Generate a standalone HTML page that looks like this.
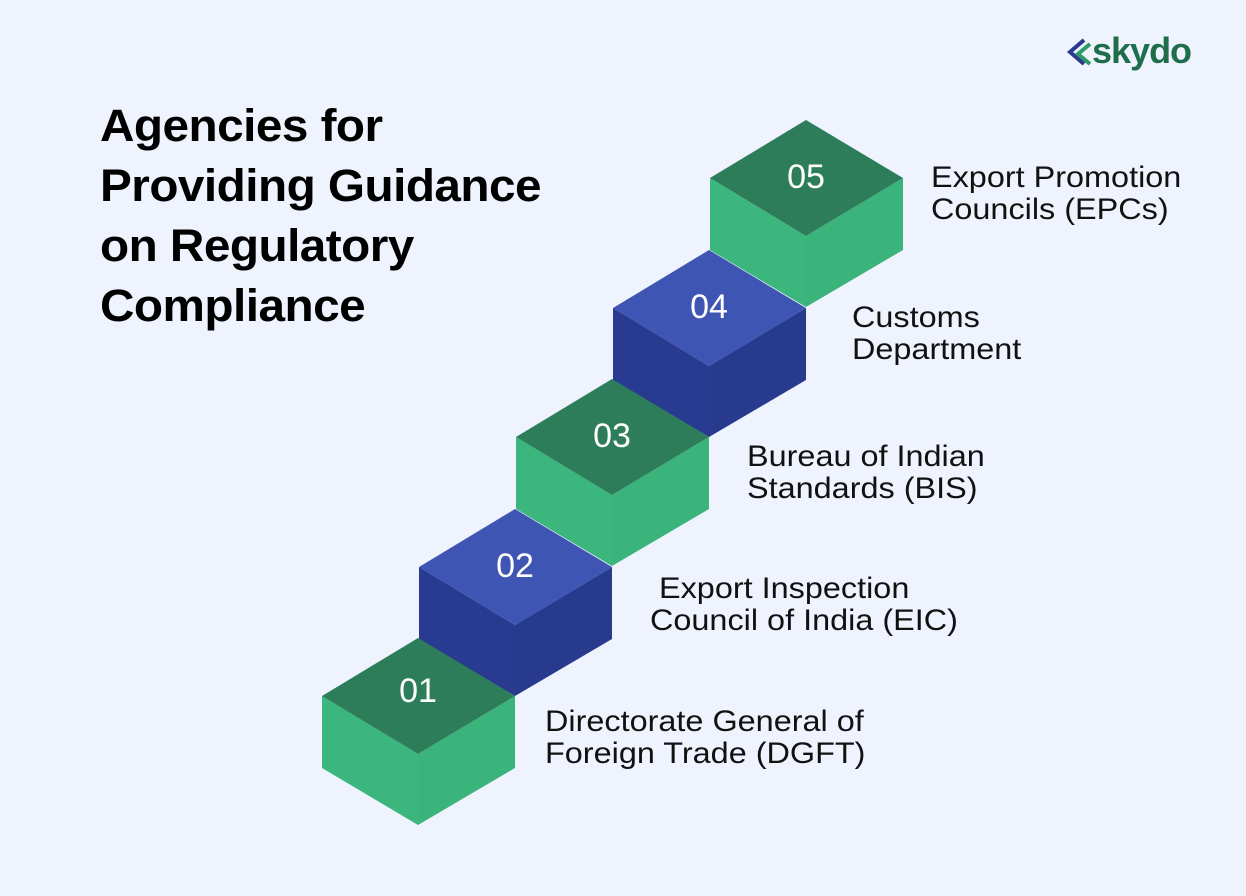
<!DOCTYPE html>
<html><head><style>
body{margin:0;width:1246px;height:896px;background:#eff3fd;position:relative;overflow:hidden;font-family:"Liberation Sans",sans-serif}
.t{position:absolute;left:100px;top:96px;font-weight:bold;font-size:45px;line-height:60px;color:#000;letter-spacing:-0.5px;transform:scaleX(1.06);transform-origin:0 0}
.l{position:absolute;font-size:30px;line-height:32px;color:#111;white-space:nowrap;transform:scaleX(1.08);transform-origin:0 0}
.logo{position:absolute;left:1092px;top:30px;font-size:36px;font-weight:bold;color:#1e6e4c;letter-spacing:-1px}
</style></head><body>
<div class="t">Agencies for<br>Providing Guidance<br>on Regulatory<br>Compliance</div>
<svg width="1246" height="896" style="position:absolute;left:0;top:0">
<g transform="translate(388,-518)"><polygon points="322,696 418,754 418,825 322,768" fill="#3bb67d"/><polygon points="418,754 515,696 515,768 418,825" fill="#3ab47b"/><polygon points="322,696 418,638 515,696 418,754" fill="#2e7d5a"/><text x="418" y="706" font-size="34" fill="#fff" text-anchor="middle" font-family="Liberation Sans">05</text></g>
<g transform="translate(291,-388)"><polygon points="322,696 418,754 418,825 322,768" fill="#283b90"/><polygon points="418,754 515,696 515,768 418,825" fill="#273a8e"/><polygon points="322,696 418,638 515,696 418,754" fill="#3f55b3"/><text x="418" y="706" font-size="34" fill="#fff" text-anchor="middle" font-family="Liberation Sans">04</text></g>
<g transform="translate(194,-259)"><polygon points="322,696 418,754 418,825 322,768" fill="#3bb67d"/><polygon points="418,754 515,696 515,768 418,825" fill="#3ab47b"/><polygon points="322,696 418,638 515,696 418,754" fill="#2e7d5a"/><text x="418" y="706" font-size="34" fill="#fff" text-anchor="middle" font-family="Liberation Sans">03</text></g>
<g transform="translate(97,-129)"><polygon points="322,696 418,754 418,825 322,768" fill="#283b90"/><polygon points="418,754 515,696 515,768 418,825" fill="#273a8e"/><polygon points="322,696 418,638 515,696 418,754" fill="#3f55b3"/><text x="418" y="706" font-size="34" fill="#fff" text-anchor="middle" font-family="Liberation Sans">02</text></g>
<g><polygon points="322,696 418,754 418,825 322,768" fill="#3bb67d"/><polygon points="418,754 515,696 515,768 418,825" fill="#3ab47b"/><polygon points="322,696 418,638 515,696 418,754" fill="#2e7d5a"/><text x="418" y="702" font-size="34" fill="#fff" text-anchor="middle" font-family="Liberation Sans">01</text></g>
<polyline points="1084,40 1070,52 1084,64" fill="none" stroke="#2a3b8f" stroke-width="4"/>
<polyline points="1090,44 1078,54 1090,64" fill="none" stroke="#2e9a66" stroke-width="4"/>
</svg>
<div class="logo">skydo</div>
<div class="l" style="left:931px;top:162px">Export Promotion<br>Councils (EPCs)</div>
<div class="l" style="left:852px;top:302px">Customs<br>Department</div>
<div class="l" style="left:747px;top:441px">Bureau of Indian<br>Standards (BIS)</div>
<div class="l" style="left:650px;top:573px">&nbsp;Export Inspection<br>Council of India (EIC)</div>
<div class="l" style="left:545px;top:706px">Directorate General of<br>Foreign Trade (DGFT)</div>
</body></html>
